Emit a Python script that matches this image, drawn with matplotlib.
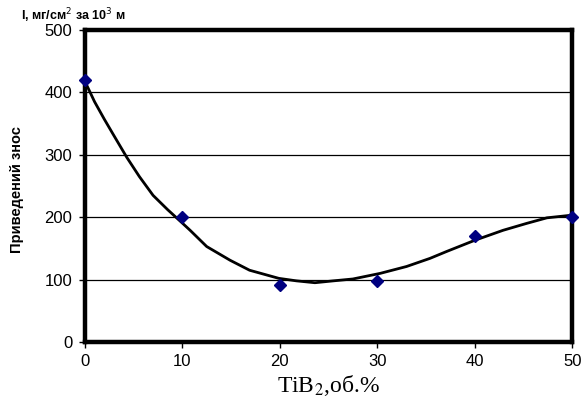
import matplotlib.pyplot as plt

# measured points
tib2 = [0, 10, 20, 30, 40, 50]
wear = [420, 201, 91, 97, 170, 201]

# trend curve
curve_x = [0, 1.0, 2.0, 2.9, 4.3, 5.6, 7.0, 8.5, 9.9, 10.8, 12.5, 14.9, 16.9, 19.9, 21.7, 23.6,
           25.5, 27.5, 30.3, 33.0, 35.4, 37.1, 40.0, 42.9, 45.3, 47.4, 49.8, 50]
curve_y = [418, 385, 357, 333, 296, 265, 235, 212, 192, 179, 153, 131, 115, 102, 98, 95,
           98, 101, 110, 121, 134, 145, 163, 179, 190, 199, 203, 203]

xticks = [0, 10, 20, 30, 40, 50]
yticks = [0, 100, 200, 300, 400, 500]

plt.rcParams['font.family'] = ['Liberation Sans', 'DejaVu Sans']

fig = plt.figure(figsize=(5.81, 4.0), dpi=100)
ax = fig.add_axes([0.146, 0.145, 0.839, 0.78])

for v in yticks[1:-1]:
    ax.axhline(v, color='black', linewidth=0.9, zorder=1)

ax.plot(curve_x, curve_y, color='black', linewidth=2, zorder=2)
ax.plot(tib2, wear, linestyle='none', marker='D', markersize=6.5,
        color='#000080', zorder=3, clip_on=False)

ax.set_xlim(0, 50)
ax.set_ylim(0, 500)
ax.set_xticks(xticks)
ax.set_yticks(yticks)
ax.tick_params(labelsize=12, length=4, width=1, direction='out', pad=5)
for s in ax.spines.values():
    s.set_linewidth(3.2)

fig.text(0.029, 0.525, 'Приведений знос', fontsize=10.5, fontweight='bold',
         rotation=90, ha='center', va='center')
fig.text(0.565, 0.036, 'TiB$_2$,об.%', fontsize=17, family='Liberation Serif',
         ha='center', va='center', math_fontfamily='stix')
fig.text(0.037, 0.962, 'I, мг/см$^2$ за 10$^3$ м', fontsize=9, fontweight='bold',
         ha='left', va='center')

fig.savefig('out.png', dpi=100)
